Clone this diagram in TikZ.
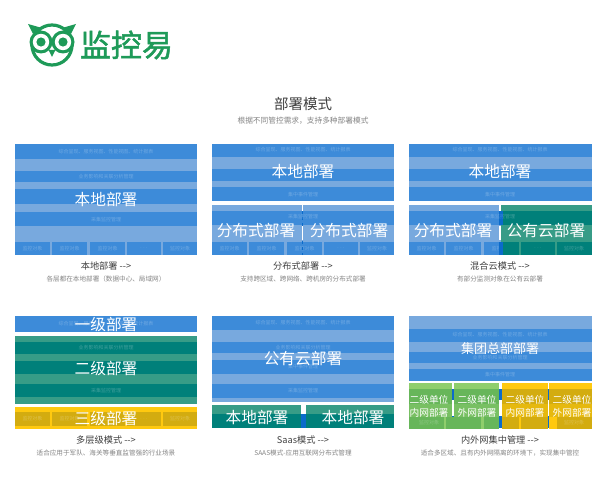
\documentclass[tikz,border=0pt]{standalone}
\usepackage{fontspec}
\setmainfont{Noto Sans CJK SC}
\newfontfamily\logofont[FakeBold=1.6]{Noto Sans CJK SC}
\usepackage{tikz}
\usetikzlibrary{positioning,calc}

\definecolor{bluedark}{HTML}{3D8BD9}
\definecolor{bluelight}{HTML}{78A9DE}
\definecolor{blueseam}{HTML}{0B6BCB}
\definecolor{tealdark}{HTML}{00807A}
\definecolor{teallight}{HTML}{379C87}
\definecolor{goldbright}{HTML}{FFC90F}
\definecolor{golddark}{HTML}{D3AC10}
\definecolor{goldmid}{HTML}{E6B90E}
\definecolor{greenlight}{HTML}{8FCE6C}
\definecolor{greendark}{HTML}{67B65A}
\definecolor{greenmid}{HTML}{78C063}
\definecolor{logogreen}{HTML}{1E9A58}
\definecolor{titlegray}{HTML}{404040}
\definecolor{subgray}{HTML}{858585}

\tikzset{
    big/.style={text=white,font=\fontsize{15.7}{16}\selectfont},
    mid/.style={text=white,font=\fontsize{9.7}{12.8}\selectfont,align=center},
    tiny/.style={text=white,opacity=0.25,font=\fontsize{5}{6}\selectfont},
    caption/.style={text=titlegray,font=\fontsize{9.2}{10}\selectfont},
    note/.style={text=subgray,font=\fontsize{6.6}{8}\selectfont},
}

% bands of one panel: top/bottom/colour
\newcommand{\bands}[2][182]{
    \foreach \a/\b/\c in {#2} \fill[\c] (0,\a) rectangle (#1,\b);
}
% row of object boxes
\newcommand{\objects}[3]{
    \foreach \a/\b/\t [count=\i] in {0/35/监控对象,37/72/监控对象,75/110/监控对象,112/146/. . .,148/182/监控对象}{
        \fill[#2] (\a,#1) rectangle (\b,#1+13.5);
        \node[tiny] (#3\i) at ({(\a+\b)/2},#1+7) {\t};
    }
}

\begin{document}
\begin{tikzpicture}[x=1pt,y=-1pt,every node/.style={inner sep=0,outer sep=0}]

    \useasboundingbox (0,0) rectangle (600,500);
    \fill[white] (0,0) rectangle (600,500);

    % logo
    \begin{scope}[logogreen]
        \fill (33,34) -- (28,24) -- (42,28) -- cycle;
        \fill (71,34) -- (76,24) -- (62,28) -- cycle;
        \draw[line width=3.2pt] (52,45) circle (20);
        \fill (41,42) circle (11.5);
        \fill (63,42) circle (11.5);
        \fill[white] (41,42) circle (8.2);
        \fill[white] (63,42) circle (8.2);
        \fill (41,42) circle (4.6);
        \fill (63,42) circle (4.6);
        \fill (48.5,50) -- (55.5,50) -- (52,57) -- cycle;
    \end{scope}
    \node[text=logogreen,font=\fontsize{31}{32}\logofont] (logotext) at (126.5,45) {监控易};

    \node[text=titlegray,font=\fontsize{14.5}{16}\selectfont] (title) at (303,104) {部署模式};
    \node[text=subgray,font=\fontsize{7.7}{9}\selectfont,below=6.5pt of title] (subtitle) {根据不同管控需求，支持多种部署模式};

    % local
    \begin{scope}[shift={(15,144)}]
        \bands{0/15/bluedark,15/27/bluelight,27/38.5/bluedark,38.5/45/bluelight,45/60/bluedark,60/68/bluelight,68/82/bluedark,82/98/bluelight,98/111/bluelight}
        \objects{97.5}{bluedark}{a}
        \node[tiny] (a6) at (91,7.5) {综合呈现、服务视图、性能视图、统计报表};
        \node[tiny] (a7) at (91,33) {业务影响和关联分析管理};
        \node[tiny] (a8) at (91,75.5) {采集监控管理};
        \node[big] (a9) at (91,56) {本地部署};
        \node[caption] (a10) at (91,122) {本地部署 -{}->};
        \node[note] (a11) at (91,135) {各层都在本地部署（数据中心、局域网）};
    \end{scope}

    % distributed
    \begin{scope}[shift={(212,144)}]
        \bands{0/13/bluedark,13/25/bluelight,25/37/bluedark,37/43/bluelight,43/57/bluedark,61/67/bluelight,67/81/bluedark,81/97/bluelight,97/111/bluelight}
        \objects{97.5}{bluedark}{b}
        \draw[white,line width=1.5pt] (90.5,61) -- (90.5,67);
        \draw[blueseam,dashed,line width=1.2pt] (90.5,67) -- (90.5,111);
        \node[tiny] (b6) at (91,6) {综合呈现、服务视图、性能视图、统计报表};
        \node[tiny] (b7) at (91,51) {集中事件管理};
        \node[tiny] (b8) at (91,73) {采集监控管理};
        \node[big] (b9) at (91,28) {本地部署};
        \node[big] (b10) at (44,87) {分布式部署};
        \node[big] (b11) at (137,87) {分布式部署};
        \draw[white,line width=1.5pt] (90.5,82) -- (90.5,96);
        \node[caption] (b12) at (91,122) {分布式部署 -{}->};
        \node[note] (b13) at (91,135) {支持跨区域、跨网络、跨机房的分布式部署};
    \end{scope}

    % hybrid
    \begin{scope}[shift={(409,144)}]
        \bands[183]{0/13/bluedark,13/25/bluelight,25/37/bluedark,37/43/bluelight,43/57/bluedark,61/67/bluelight,67/81/bluedark,81/97/bluelight,97/111/bluelight}
        \objects{97.5}{bluedark}{c}
        \foreach \a/\b/\c in {61/67/teallight,67/81/tealdark,81/97/teallight,97/111/teallight}
            \fill[\c] (92,\a) rectangle (183,\b);
        \foreach \a/\b in {92/110,112/146,148/183}
            \fill[tealdark] (\a,97.5) rectangle (\b,111);
        \fill[blueseam] (90,67) rectangle (94,81);
        \fill[blueseam] (90,97.5) rectangle (94,111);
        \draw[white,line width=1.5pt] (91,61) -- (91,67);
        \node[tiny] (c6) at (91,6) {综合呈现、服务视图、性能视图、统计报表};
        \node[tiny] (c7) at (91,51) {集中事件管理};
        \node[tiny] (c8) at (91,73) {采集监控管理};
        \node[tiny] (c14) at (129,104.5) {. . .};
        \node[tiny] (c15) at (165,104.5) {监控对象};
        \node[big] (c9) at (91,28) {本地部署};
        \node[big] (c10) at (44,87) {分布式部署};
        \node[big] (c11) at (137,87) {公有云部署};
        \draw[white,line width=1.5pt] (91,82) -- (91,96);
        \node[caption] (c12) at (91,122) {混合云模式 -{}->};
        \node[note] (c13) at (91,135) {有部分监测对象在公有云部署};
    \end{scope}

    % multi level
    \begin{scope}[shift={(15,316)}]
        \bands{0/16/bluedark,20/26/teallight,26/38/tealdark,38/45/teallight,45/58/tealdark,58/68/teallight,68/81/tealdark,81/88/teallight,91/113/goldbright}
        \objects{96}{golddark}{d}
        \node[tiny] (d6) at (91,7.5) {综合呈现、服务视图、性能视图、统计报表};
        \node[tiny] (d7) at (91,32) {业务影响和关联分析管理};
        \node[tiny] (d8) at (91,75) {采集监控管理};
        \node[big] (d9) at (91,9) {一级部署};
        \node[big] (d10) at (91,53) {二级部署};
        \node[big] (d11) at (91,102.5) {三级部署};
        \node[caption] (d12) at (91,124) {多层级模式 -{}->};
        \node[note] (d13) at (91,137) {适合应用于军队、海关等垂直监管强的行业场景};
    \end{scope}

    % saas
    \begin{scope}[shift={(212,316)}]
        \bands{0/14/bluedark,14/26/bluelight,26/37/bluedark,37/44/bluelight,44/58/bluedark,58/68/bluelight,68/82/bluedark,82/86/bluelight}
        \fill[blueseam] (89,98) rectangle (94,112);
        \foreach \p/\q in {0/89,94/182}{
            \fill[teallight] (\p,89) rectangle (\q,98);
            \fill[tealdark] (\p,98) rectangle (\q,112);
        }
        \node[tiny] (e6) at (91,6.5) {综合呈现、服务视图、性能视图、统计报表};
        \node[tiny] (e7) at (91,32) {业务影响和关联分析管理};
        \node[tiny] (e8) at (91,51) {集中事件管理};
        \node[tiny] (e9) at (91,75) {采集监控管理};
        \node[big] (e10) at (91,43) {公有云部署};
        \node[big] (e11) at (45,101) {本地部署};
        \node[big] (e12) at (141,101) {本地部署};
        \node[caption] (e13) at (91,124) {Saas模式 -{}->};
        \node[note] (e14) at (91,137) {SAAS模式-应用互联网分布式管理};
    \end{scope}

    % intranet and extranet
    \begin{scope}[shift={(409,316)}]
        \bands[183]{0/13/bluelight,13/26/bluedark,26/36/bluelight,36/47/bluedark,47/53/bluelight,53/65/bluedark}
        \foreach \p/\q in {43/45,90/93,139/140}{
            \fill[blueseam] (\p,73) rectangle (\q,84);
            \fill[blueseam] (\p,100) rectangle (\q,112);
        }
        \foreach \p/\q/\l/\m/\d in {0/43/greenlight/greenmid/greendark,45/90/greenlight/greenmid/greendark,93/139/goldbright/goldmid/golddark,140/183/goldbright/goldmid/golddark}{
            \fill[\l] (\p,67) rectangle (\q,73);
            \fill[\d] (\p,73) rectangle (\q,88);
            \fill[\m] (\p,88) rectangle (\q,101);
            \fill[\l] (\p,101) rectangle (\q,113);
        }
        \foreach \a/\b/\d in {0/35/greendark,37/72/greendark,75/90/greendark,93/110/golddark,112/139/golddark,148/183/golddark}
            \fill[\d] (\a,101) rectangle (\b,113);
        \node[tiny] (f6) at (91,19) {综合呈现、服务视图、性能视图、统计报表};
        \node[tiny] (f7) at (91,41.5) {业务影响和关联分析管理};
        \node[tiny] (f8) at (91,59) {集中事件管理};
        \node[tiny] (f9) at (20,107) {监控对象};
        \node[tiny] (f10) at (165,107) {监控对象};
        \node[big,font=\fontsize{13}{14}\selectfont] (f11) at (91,33) {集团总部部署};
        \node[mid] (f12) at (20,90.5) {二级单位\\内网部署};
        \node[mid] (f13) at (68,90.5) {二级单位\\外网部署};
        \node[mid] (f14) at (116,90.5) {二级单位\\内网部署};
        \node[mid] (f15) at (163,90.5) {二级单位\\外网部署};
        \node[caption] (f16) at (91,124) {内外网集中管理 -{}->};
        \node[note] (f17) at (91,137) {适合多区域、且有内外网隔离的环境下，实现集中管控};
    \end{scope}

\end{tikzpicture}
\end{document}
